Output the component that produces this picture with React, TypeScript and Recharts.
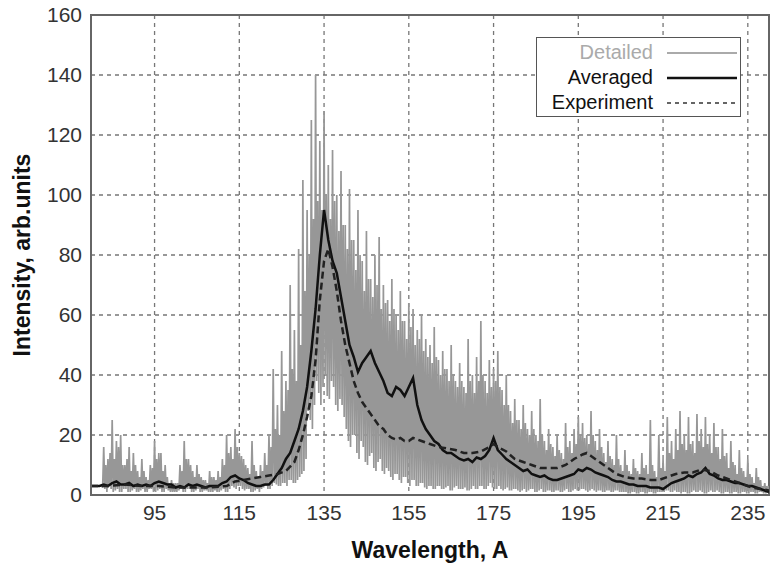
import { LineChart, Line, XAxis, YAxis, CartesianGrid, ReferenceArea } from "recharts";

const FONT = '"Liberation Sans", Arial, Helvetica, sans-serif';

const xTicks = [95, 115, 135, 155, 175, 195, 215, 235];
const yTicks = [0, 20, 40, 60, 80, 100, 120, 140, 160];

// Detailed spectrum, four samples per angstrom starting at 80:
// tall spikes (+0), dips (+0.25), body level (+0.5), dips (+0.75)
const detailedStart = 80;
const detailedPeaks = [
  3, 3, 3, 16, 12, 25, 18, 20, 10, 16,
  14, 8, 12, 6, 10, 18, 14, 8, 6, 5,
  4, 10, 18, 12, 8, 10, 6, 5, 8, 6,
  8, 12, 20, 16, 22, 14, 12, 9, 18, 8,
  10, 14, 20, 42, 30, 48, 38, 70, 55, 82,
  105, 95, 125, 140, 118, 128, 110, 115, 100, 108,
  90, 102, 85, 95, 78, 88, 72, 80, 86, 70,
  65, 72, 60, 68, 58, 64, 62, 55, 60, 52,
  50, 56, 45, 48, 42, 50, 38, 44, 36, 52,
  40, 46, 58, 38, 45, 42, 48, 35, 40, 28,
  32, 25, 30, 22, 28, 20, 32, 18, 22, 16,
  20, 14, 24, 18, 22, 26, 24, 20, 28, 18,
  22, 14, 18, 12, 20, 10, 15, 8, 12, 8,
  14, 10, 25, 8, 20, 12, 26, 18, 22, 28,
  20, 26, 18, 27, 22, 26, 20, 24, 16, 22,
  14, 18, 10, 15, 8, 12, 6, 9, 5, 4, 3,
];
const detailedDipsA = [
  3, 3, 3, 2, 3, 1, 2, 1, 2, 1,
  2, 1, 2, 1, 2, 1, 2, 1, 1.5, 1,
  1, 2, 1, 2, 1, 2, 1, 1.5, 1, 1.5,
  1, 2, 1, 3, 2, 3, 1.5, 2, 1, 2,
  2, 3, 2, 4, 3, 4, 3, 5, 4, 6,
  8, 28, 22, 38, 30, 40, 32, 36, 28, 30,
  22, 16, 20, 12, 16, 10, 14, 8, 12, 7,
  8, 5, 7, 4, 6, 3, 5, 3, 4, 2,
  3, 2, 3, 2, 3, 1.5, 3, 2, 2.5, 1.5,
  3, 2, 3, 2, 4, 2, 3, 1.5, 2.5, 1.5,
  2, 1, 2, 1.5, 2, 1, 2, 1, 1.5, 1,
  1.5, 1, 2, 1, 2, 1.5, 2, 1, 2, 1,
  1.5, 1, 1.5, 1, 1.5, 1, 1, 0.5, 1, 0.5,
  1, 0.5, 1, 0.5, 1, 1, 1.5, 1, 1, 0.5,
  1, 0.5, 1.5, 1, 1, 0.5, 1.5, 1, 1, 0.5,
  1, 0.5, 1, 0.5, 1, 0.5, 1, 0.5, 1, 0.5,
];
const detailedBody = [
  3, 3, 3, 10, 14, 12, 16, 10, 12, 8,
  10, 6, 8, 5, 9, 12, 14, 10, 4, 4,
  4, 8, 12, 10, 6, 7, 5, 4, 6, 5,
  6, 10, 14, 12, 16, 13, 10, 7, 10, 6,
  8, 10, 16, 22, 20, 28, 35, 42, 38, 50,
  68, 80, 92, 98, 95, 100, 92, 98, 88, 90,
  82, 85, 75, 80, 68, 72, 66, 70, 62, 64,
  58, 62, 55, 58, 52, 56, 50, 52, 48, 46,
  44, 46, 40, 42, 38, 40, 36, 38, 34, 38,
  34, 38, 40, 34, 36, 38, 36, 30, 30, 24,
  25, 22, 24, 20, 22, 18, 20, 15, 17, 13,
  15, 12, 16, 14, 17, 20, 19, 17, 20, 15,
  16, 11, 13, 10, 12, 8, 10, 7, 9, 7,
  9, 7, 10, 6, 9, 8, 14, 12, 15, 17,
  15, 17, 14, 18, 16, 17, 14, 16, 12, 13,
  9, 11, 7, 9, 6, 7, 4, 6, 3, 3,
];
const detailedDipsB = [
  3, 3, 2.5, 1, 2, 1.5, 1, 2, 1, 1.5,
  1, 1.5, 1, 2, 1, 1.5, 1, 2, 1, 1,
  1.5, 1, 2, 1, 1.5, 1, 1.5, 1, 1, 1,
  1.5, 1, 2, 2.5, 3, 2, 2, 1, 1.5, 1,
  2.5, 2, 3, 3.5, 3, 4, 5, 4, 5, 7,
  12, 25, 30, 34, 36, 33, 38, 30, 32, 26,
  18, 20, 14, 18, 11, 13, 9, 11, 8, 9,
  6, 7, 5, 6, 4, 5, 3, 4, 2.5, 3,
  2, 3, 2, 2.5, 1.5, 2.5, 2, 2, 1.5, 2,
  2, 3, 2, 3, 2.5, 2, 2, 2, 1.5, 2,
  1.5, 1.5, 1, 2, 1, 1.5, 1, 1.5, 1, 1.5,
  1, 1.5, 1, 1.5, 1.5, 2, 1.5, 1.5, 1.5, 1.5,
  1, 1.5, 1, 1.5, 1, 1, 0.5, 1, 0.5, 1,
  0.5, 1, 0.5, 1, 1, 1.5, 1, 1.5, 1, 1,
  0.5, 1, 1, 1.5, 0.5, 1, 1, 1.5, 0.5, 1,
  0.5, 1, 0.5, 1, 0.5, 1, 0.5, 1, 0.5, 1,
];

const averaged: [number, number][] = [
  [80, 3], [81, 3], [82, 3], [83, 3.5], [84, 3], [85, 4], [86, 4.5], [87, 3.5], [88, 3.5],
  [89, 4], [90, 3], [91, 3.5], [92, 3], [93, 3.5], [94, 3], [95, 4], [96, 4.5], [97, 4],
  [98, 3.5], [99, 3.5], [100, 2.5], [101, 3], [102, 2.5], [103, 3.5], [104, 3], [105, 3.5],
  [106, 3], [107, 2.5], [108, 3], [109, 3], [110, 3], [111, 4], [112, 4.5], [113, 6],
  [114, 6.5], [115, 5.5], [116, 5], [117, 4], [118, 3.5], [119, 3], [120, 3], [121, 3.5],
  [122, 3.5], [123, 5], [124, 7], [125, 9], [126, 12], [127, 14], [128, 18], [129, 22],
  [130, 28], [131, 36], [132, 48], [133, 62], [134, 80], [135, 95], [136, 85], [137, 78],
  [138, 74], [139, 66], [140, 58], [141, 50], [142, 46], [143, 41], [144, 44], [145, 46],
  [146, 48], [147, 44], [148, 41], [149, 38], [150, 34], [151, 33], [152, 36], [153, 35],
  [154, 33], [155, 36], [156, 39], [157, 30], [158, 25], [159, 22], [160, 20], [161, 18],
  [162, 17], [163, 15], [164, 14], [165, 14], [166, 13], [167, 12], [168, 11.5], [169, 12],
  [170, 11], [171, 12.5], [172, 12], [173, 13], [174, 15], [175, 19], [176, 15], [177, 13.5],
  [178, 12], [179, 11], [180, 10], [181, 9], [182, 8], [183, 8.5], [184, 7], [185, 6.5],
  [186, 6], [187, 6.5], [188, 5.5], [189, 5], [190, 5], [191, 5.5], [192, 6], [193, 6.5],
  [194, 7], [195, 8.5], [196, 8], [197, 9], [198, 8.5], [199, 7.5], [200, 7], [201, 6.5],
  [202, 6], [203, 5], [204, 4.5], [205, 4.5], [206, 4], [207, 3.5], [208, 3.5], [209, 3],
  [210, 3], [211, 3], [212, 2.5], [213, 2.5], [214, 2.5], [215, 2], [216, 3], [217, 4],
  [218, 4.5], [219, 5], [220, 5.5], [221, 6.5], [222, 6], [223, 7], [224, 7.5], [225, 9],
  [226, 7], [227, 6.5], [228, 5.5], [229, 5], [230, 5], [231, 4.5], [232, 4], [233, 4],
  [234, 3.5], [235, 3], [236, 3], [237, 2.5], [238, 2], [239, 1.5], [240, 1],
];

const experiment: [number, number][] = [
  [80, 3], [84, 3], [88, 3.5], [92, 3], [96, 3], [100, 2.5], [104, 2.5], [108, 2.5],
  [112, 3], [114, 4.5], [116, 5], [118, 5.5], [120, 6], [122, 6.5], [124, 7], [126, 8],
  [128, 11], [129, 15], [130, 20], [131, 26], [132, 33], [133, 45], [134, 65], [135, 78],
  [136, 82], [137, 76], [138, 68], [139, 58], [140, 50], [141, 44], [142, 38], [143, 34],
  [144, 31], [145, 29], [146, 27], [147, 25], [148, 23], [149, 22], [150, 20], [151, 19],
  [152, 18.5], [153, 19], [154, 18], [155, 18], [156, 19], [158, 18], [160, 17], [162, 16],
  [164, 15.5], [166, 15], [168, 14], [170, 14], [172, 14.5], [174, 16], [175, 17], [176, 16],
  [178, 14.5], [180, 12], [182, 11], [184, 10], [186, 9], [188, 9], [190, 9], [192, 10],
  [194, 12], [196, 13.5], [197, 14], [198, 13], [200, 11], [202, 9], [204, 7], [206, 6],
  [208, 5.5], [210, 5.5], [212, 5], [214, 5], [216, 6], [218, 7], [220, 7.5], [222, 7.5],
  [224, 8.5], [226, 8], [228, 6.5], [230, 5.5], [232, 4.5], [234, 3.5], [236, 2.5], [238, 2],
  [240, 1.5],
];

const detailedData: { wl: number; v: number }[] = [];
detailedPeaks.forEach((v, i) => {
  const wl = detailedStart + i;
  detailedData.push({ wl, v });
  if (i < detailedDipsA.length) {
    detailedData.push({ wl: wl + 0.25, v: detailedDipsA[i] });
    detailedData.push({ wl: wl + 0.5, v: detailedBody[i] });
    detailedData.push({ wl: wl + 0.75, v: detailedDipsB[i] });
  }
});
const averagedData = averaged.map(([wl, v]) => ({ wl, v }));
const experimentData = experiment.map(([wl, v]) => ({ wl, v }));

const legendRows = [
  { name: "Detailed", color: "#aaaaaa", width: 2, dash: undefined as string | undefined },
  { name: "Averaged", color: "#111111", width: 2.5, dash: undefined as string | undefined },
  { name: "Experiment", color: "#333333", width: 1.5, dash: "4 4" },
];

const YTitle = () => (
  <text
    x={22}
    y={255}
    transform="rotate(-90, 22, 255)"
    textAnchor="middle"
    dominantBaseline="central"
    fontFamily={FONT}
    fontWeight="bold"
    fontSize={23}
    fill="#111"
  >
    Intensity, arb.units
  </text>
);

export default function App() {
  return (
    <div style={{ position: "absolute", left: 0, top: 0, width: 771, height: 566, background: "#fff" }}>
      <LineChart width={771} height={566} margin={{ top: 15, right: 2, bottom: 0, left: 0 }}>
        <CartesianGrid stroke="#777" strokeDasharray="4 4" strokeWidth={1.3} />
        <XAxis
          type="number"
          dataKey="wl"
          domain={[80, 240]}
          ticks={xTicks}
          allowDataOverflow
          height={71}
          tickSize={0}
          tickMargin={10}
          axisLine={{ stroke: "#666", strokeWidth: 2 }}
          tick={{ fontSize: 21, fill: "#333", fontFamily: FONT }}
          label={{
            value: "Wavelength, A",
            position: "insideBottom",
            offset: 8,
            fontSize: 23,
            fontWeight: "bold",
            fill: "#111",
            fontFamily: FONT,
          }}
        />
        <YAxis
          type="number"
          domain={[0, 160]}
          ticks={yTicks}
          width={91}
          tickSize={0}
          tickMargin={9}
          axisLine={{ stroke: "#666", strokeWidth: 2 }}
          tick={{ fontSize: 21, fill: "#333", fontFamily: FONT }}
          label={<YTitle />}
        />
        <Line
          data={detailedData}
          dataKey="v"
          type="linear"
          stroke="#979797"
          strokeWidth={1.7}
          strokeLinejoin="miter"
          strokeMiterlimit={2}
          dot={false}
          isAnimationActive={false}
        />
        <Line
          data={averagedData}
          dataKey="v"
          type="linear"
          stroke="#111"
          strokeWidth={2.5}
          dot={false}
          isAnimationActive={false}
        />
        <Line
          data={experimentData}
          dataKey="v"
          type="linear"
          stroke="#222"
          strokeWidth={2.5}
          strokeDasharray="7 4"
          dot={false}
          isAnimationActive={false}
        />
        <ReferenceArea x1={80} x2={240} y1={0} y2={160} fill="none" stroke="#666" strokeWidth={2} />
      </LineChart>
      <div
        style={{
          position: "absolute",
          left: 536,
          top: 37,
          width: 205,
          height: 80,
          boxSizing: "border-box",
          border: "1.5px solid #555",
          background: "#fff",
          paddingTop: 2,
          fontFamily: FONT,
          fontSize: 20,
        }}
      >
        {legendRows.map((r) => (
          <div key={r.name} style={{ display: "flex", alignItems: "center", height: 25 }}>
            <span style={{ width: 116, textAlign: "right", color: r.name === "Detailed" ? "#aaa" : "#111", lineHeight: "25px" }}>
              {r.name}
            </span>
            <svg width={72} height={10} style={{ marginLeft: 14 }}>
              <line x1={0} y1={5} x2={70} y2={5} stroke={r.color} strokeWidth={r.width} strokeDasharray={r.dash} />
            </svg>
          </div>
        ))}
      </div>
    </div>
  );
}
